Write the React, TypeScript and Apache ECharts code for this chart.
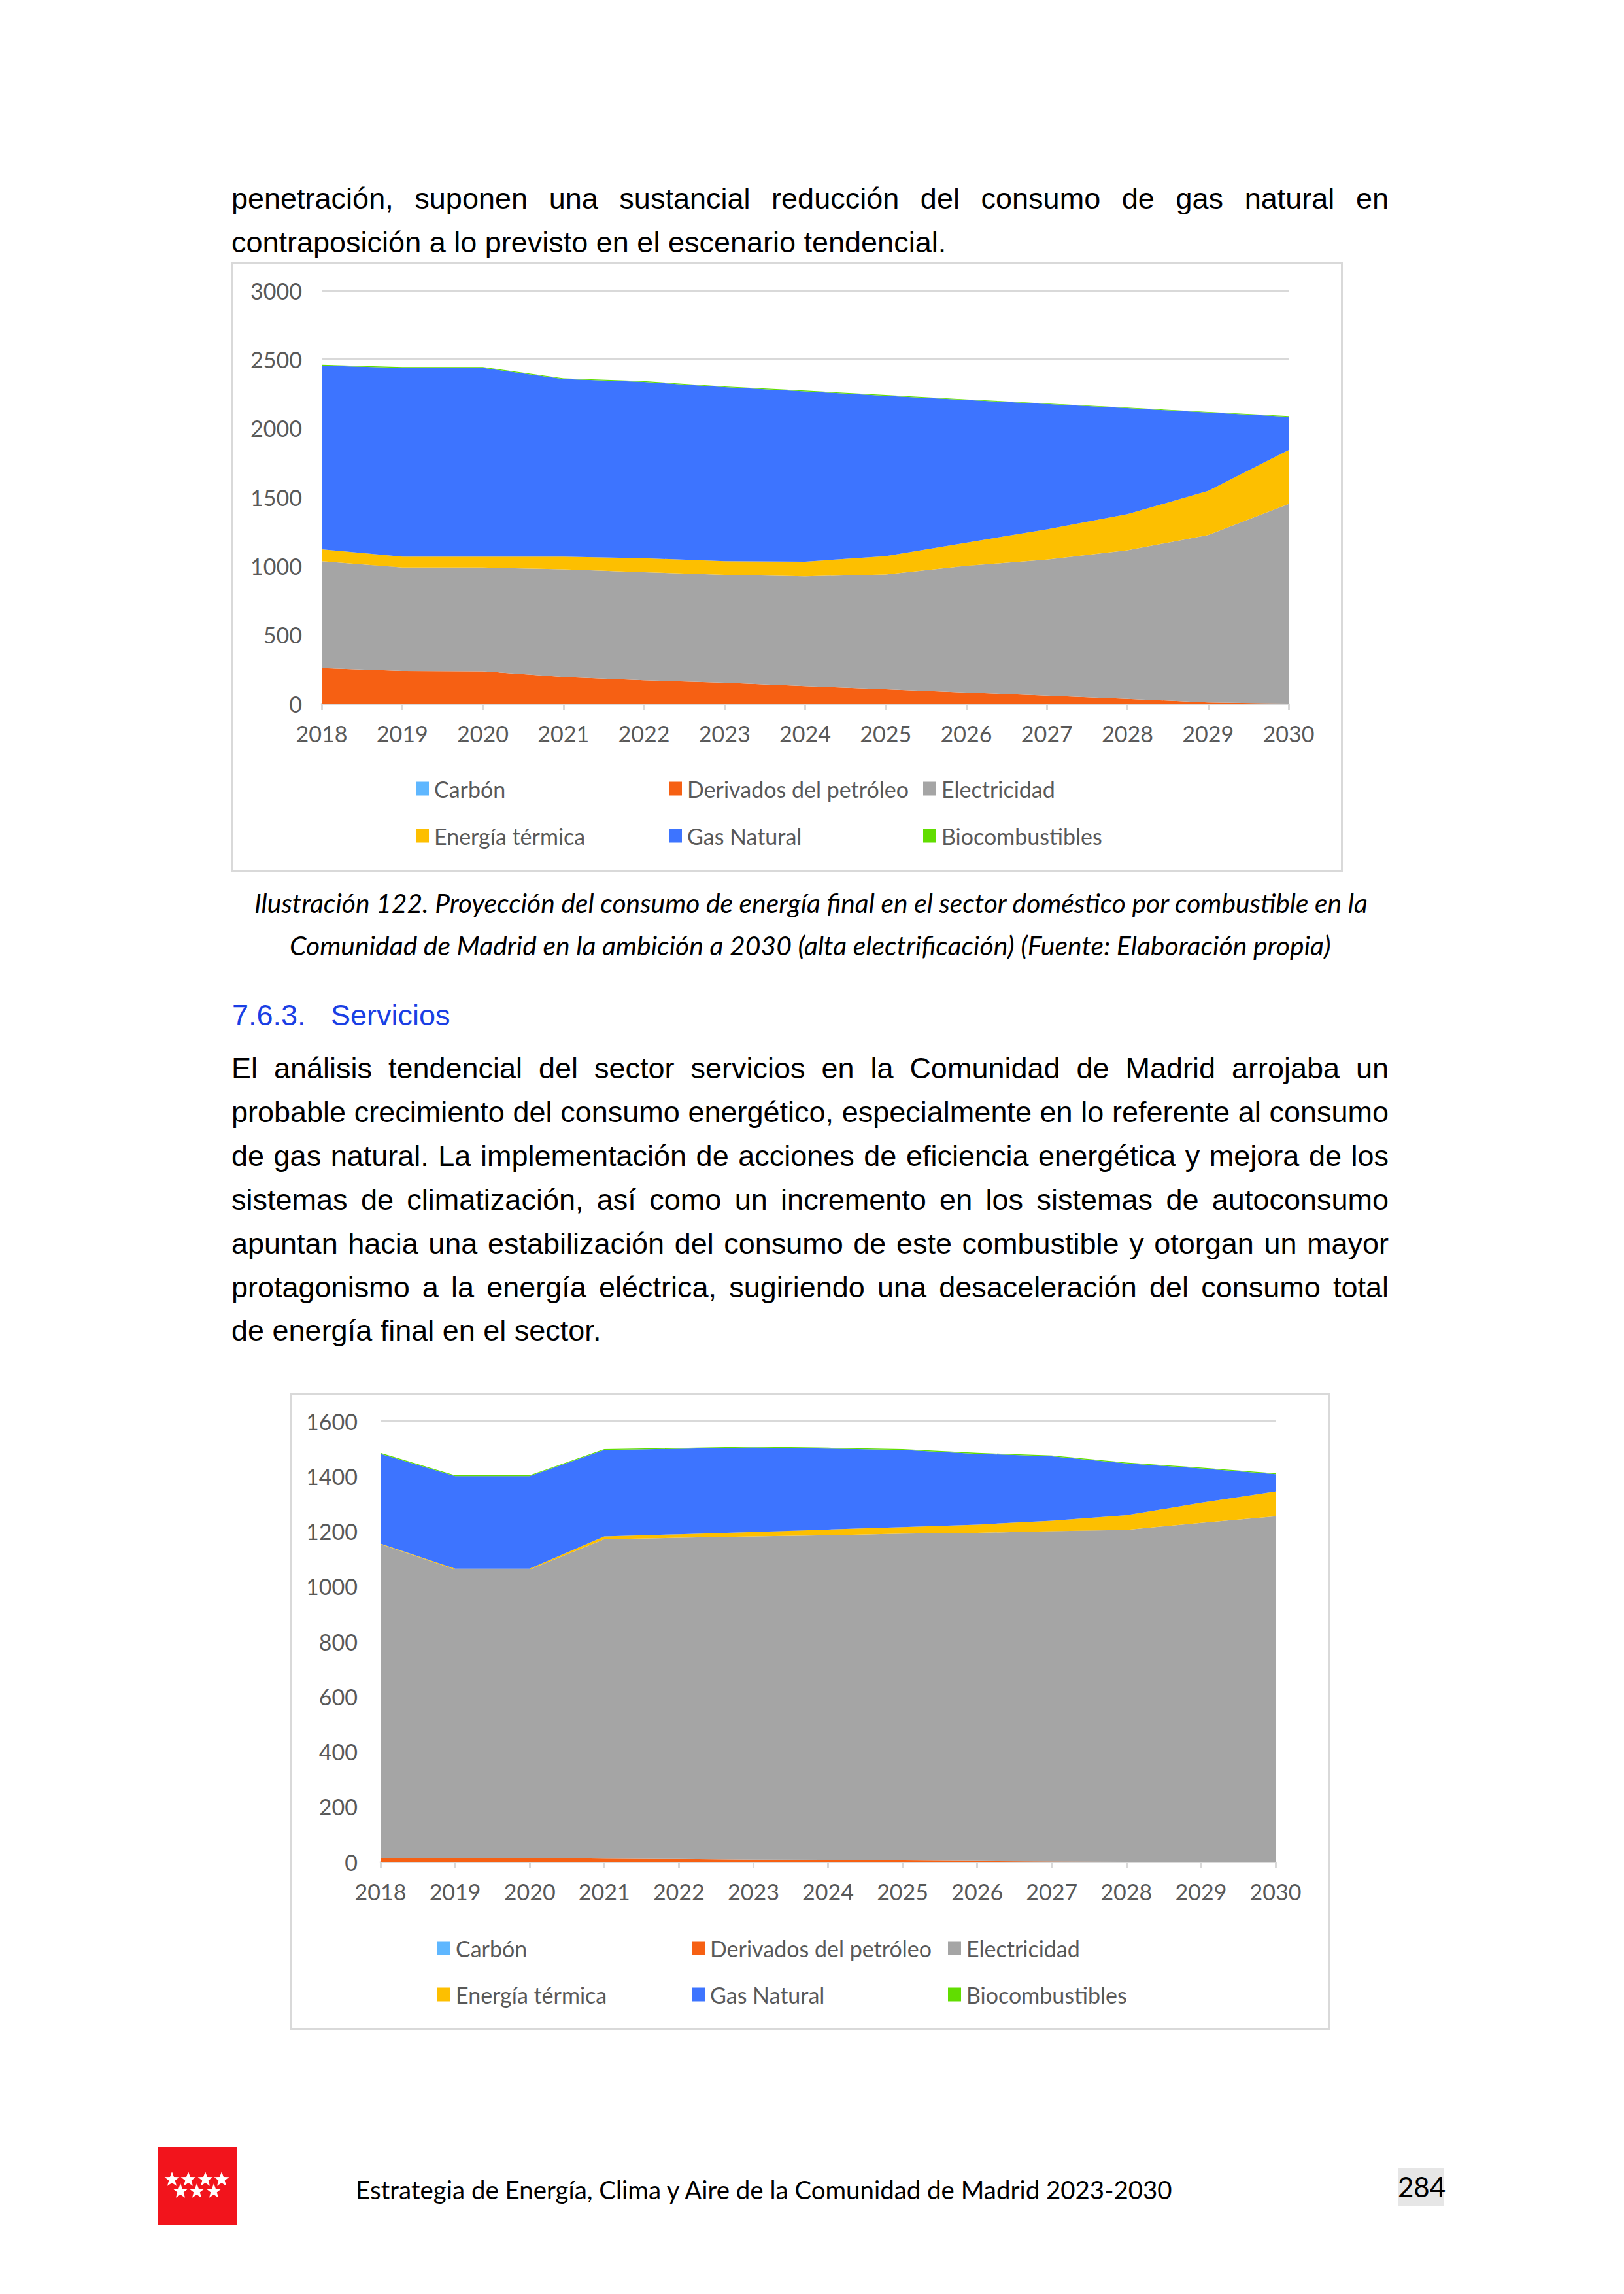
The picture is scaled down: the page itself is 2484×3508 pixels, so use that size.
import React, { useEffect, useLayoutEffect, useRef, useState } from "react";
import * as echarts from "echarts";

// ---------- DATA ----------
const years = ["2018", "2019", "2020", "2021", "2022", "2023", "2024", "2025", "2026", "2027", "2028", "2029", "2030"];
const seriesNames = ["Carbón", "Derivados del petróleo", "Electricidad", "Energía térmica", "Gas Natural", "Biocombustibles"];
const seriesColors = ["#5FB7FF", "#F66013", "#A5A5A5", "#FDBF00", "#3D74FF", "#61DD00"];

// Chart 1: sector doméstico (ambición 2030, alta electrificación)
const domCarbon = [0, 0, 0, 0, 0, 0, 0, 0, 0, 0, 0, 0, 0];
const domDerivados = [258, 237, 235, 194, 170, 152, 127, 104, 81, 58, 35, 8, 0];
const domElectricidad = [776, 751, 753, 781, 784, 783, 797, 834, 919, 988, 1078, 1215, 1449];
const domTermica = [86, 79, 79, 92, 101, 99, 106, 133, 168, 219, 262, 321, 392];
const domGas = [1334, 1371, 1371, 1290, 1281, 1263, 1237, 1164, 1037, 910, 770, 569, 242];
const domBio = [6, 6, 6, 5, 5, 5, 5, 5, 4, 4, 4, 4, 4];
const domYTicks = { min: 0, max: 3000, interval: 500 };

// Chart 2: sector servicios
const srvCarbon = [0, 0, 0, 0, 0, 0, 0, 0, 0, 0, 0, 0, 0];
const srvDerivados = [14, 14, 14, 11, 10, 8, 7, 5, 3, 1, 0, 0, 0];
const srvElectricidad = [1139, 1047, 1047, 1160, 1166, 1173, 1178, 1186, 1191, 1199, 1205, 1230, 1254];
const srvTermica = [2, 3, 3, 10, 13, 16, 21, 24, 30, 38, 53, 73, 90];
const srvGas = [326, 336, 336, 314, 310, 307, 294, 280, 257, 234, 188, 125, 63];
const srvBio = [3, 3, 3, 3, 3, 3, 3, 3, 3, 3, 3, 3, 3];
const srvYTicks = { min: 0, max: 1600, interval: 200 };

// ---------- TEXT ----------
const para1 = [
  "penetración, suponen una sustancial reducción del consumo de gas natural en",
  "contraposición a lo previsto en el escenario tendencial.",
];
const caption = [
  "Ilustración 122. Proyección del consumo de energía final en el sector doméstico por combustible en la",
  "Comunidad de Madrid en la ambición a 2030 (alta electrificación) (Fuente: Elaboración propia)",
];
const headingNum = "7.6.3.";
const headingText = "Servicios";
const para2 = [
  "El análisis tendencial del sector servicios en la Comunidad de Madrid arrojaba un",
  "probable crecimiento del consumo energético, especialmente en lo referente al consumo",
  "de gas natural. La implementación de acciones de eficiencia energética y mejora de los",
  "sistemas de climatización, así como un incremento en los sistemas de autoconsumo",
  "apuntan hacia una estabilización del consumo de este combustible y otorgan un mayor",
  "protagonismo a la energía eléctrica, sugiriendo una desaceleración del consumo total",
  "de energía final en el sector.",
];
const footerText = "Estrategia de Energía, Clima y Aire de la Comunidad de Madrid 2023-2030";
const pageNumber = "284";

const BODY_FONT = "'Liberation Sans', Arial, sans-serif";
const CAL_FONT = "Lato, 'Open Sans', sans-serif";

type LineProps = {
  text: string;
  x: number;
  cy: number;
  w?: number;
  fs: number;
  lh?: number;
  mode: "left" | "justify" | "fit";
  family: string;
  italic?: boolean;
  color?: string;
};

function TextLine(p: LineProps) {
  const spanRef = useRef<HTMLSpanElement>(null);
  const [adj, setAdj] = useState({ fs: p.fs, ws: 0 });
  useLayoutEffect(() => {
    const s = spanRef.current;
    if (!s || !p.w) return;
    const nat = s.getBoundingClientRect().width;
    if (nat <= 0) return;
    if (p.mode === "justify") {
      const spaces = (p.text.match(/ /g) || []).length;
      if (nat > p.w) setAdj({ fs: (p.fs * p.w) / nat, ws: 0 });
      else if (spaces) setAdj({ fs: p.fs, ws: (p.w - nat) / spaces });
    } else if (p.mode === "fit") {
      setAdj({ fs: (p.fs * p.w) / nat, ws: 0 });
    }
  }, []);
  const lh = p.lh ?? 64;
  return (
    <div
      style={{
        position: "absolute",
        left: p.x,
        top: p.cy - lh / 2,
        height: lh,
        lineHeight: lh + "px",
        whiteSpace: "pre",
        fontFamily: p.family,
        fontSize: adj.fs,
        fontStyle: p.italic ? "italic" : "normal",
        color: p.color ?? "#000",
        wordSpacing: adj.ws,
      }}
    >
      <span ref={spanRef}>{p.text}</span>
    </div>
  );
}

type ChartCfg = {
  data: number[][];
  yTicks: { min: number; max: number; interval: number };
  grid: { left: number; right: number; top: number; bottom: number };
  yLabelMargin: number;
  legendCols: number[];
  legendRows: number[];
};

function AreaChart({ cfg }: { cfg: ChartCfg }) {
  const ref = useRef<HTMLDivElement>(null);
  useEffect(() => {
    const chart = echarts.init(ref.current!, null, { renderer: "svg" });
    const textStyle = { fontFamily: CAL_FONT, fontSize: 34, color: "#595959" };
    // legend layout: 3 columns x 2 rows
    const legendOrder = [
      [0, 0, 0], [1, 1, 0], [2, 2, 0],
      [3, 0, 1], [4, 1, 1], [5, 2, 1],
    ];
    const legends = legendOrder.map(([si, col, row]) => ({
      show: true,
      orient: "horizontal",
      left: cfg.legendCols[col],
      top: cfg.legendRows[row] - 20,
      padding: 0,
      itemWidth: 20,
      itemHeight: 21,
      icon: "rect",
      data: [seriesNames[si]],
      textStyle: { ...textStyle, lineHeight: 40, padding: [0, 0, 0, 3] },
      selectedMode: false,
    }));
    chart.setOption({
      animation: false,
      color: seriesColors,
      grid: cfg.grid,
      legend: legends,
      xAxis: {
        type: "category",
        data: years,
        boundaryGap: false,
        axisLine: { show: true, lineStyle: { color: "#D9D9D9", width: 3 } },
        axisTick: { show: true, alignWithLabel: true, length: 10, lineStyle: { color: "#D9D9D9", width: 3 } },
        axisLabel: { ...textStyle, margin: 28 },
        splitLine: { show: false },
      },
      yAxis: {
        type: "value",
        min: cfg.yTicks.min,
        max: cfg.yTicks.max,
        interval: cfg.yTicks.interval,
        axisLine: { show: false },
        axisTick: { show: false },
        axisLabel: { ...textStyle, margin: cfg.yLabelMargin, formatter: (v: number) => String(v) },
        splitLine: { show: true, lineStyle: { color: "#D9D9D9", width: 3 } },
      },
      series: seriesNames.map((name, i) => ({
        name,
        type: "line",
        stack: "total",
        data: cfg.data[i],
        symbol: "none",
        showSymbol: false,
        lineStyle: { width: 0, color: seriesColors[i] },
        itemStyle: { color: seriesColors[i] },
        areaStyle: { color: seriesColors[i], opacity: 1 },
        emphasis: { disabled: true },
      })),
    });
    return () => chart.dispose();
  }, []);
  return <div ref={ref} style={{ width: "100%", height: "100%" }} />;
}

function Frame({ x, y, w, h, children }: { x: number; y: number; w: number; h: number; children: React.ReactNode }) {
  return (
    <div
      style={{
        position: "absolute",
        left: x,
        top: y,
        width: w,
        height: h,
        border: "3px solid #D9D9D9",
        boxSizing: "border-box",
        background: "#fff",
      }}
    >
      {children}
    </div>
  );
}

function starPoints(cx: number, cy: number, R: number, r: number) {
  const pts: string[] = [];
  for (let i = 0; i < 10; i++) {
    const ang = -Math.PI / 2 + (i * Math.PI) / 5;
    const rad = i % 2 === 0 ? R : r;
    pts.push(`${(cx + rad * Math.cos(ang)).toFixed(2)},${(cy + rad * Math.sin(ang)).toFixed(2)}`);
  }
  return pts.join(" ");
}

const starsTop = [21, 46, 72, 97];
const starsBottom = [34, 59, 85];

function Logo() {
  return (
    <svg style={{ position: "absolute", left: 242, top: 3283 }} width={120} height={119} viewBox="0 0 120 119">
      <rect x={0} y={0} width={120} height={119} fill="#F2141C" />
      {starsTop.map((sx) => (
        <polygon key={"t" + sx} points={starPoints(sx, 50, 12, 5)} fill="#fff" />
      ))}
      {starsBottom.map((sx) => (
        <polygon key={"b" + sx} points={starPoints(sx, 68, 12, 5)} fill="#fff" />
      ))}
    </svg>
  );
}

const chart1: ChartCfg = {
  data: [domCarbon, domDerivados, domElectricidad, domTermica, domGas, domBio],
  yTicks: domYTicks,
  grid: { left: 135, right: 80, top: 41, bottom: 255 },
  yLabelMargin: 30,
  legendCols: [279, 666, 1055],
  legendRows: [803, 875],
};

const chart2: ChartCfg = {
  data: [srvCarbon, srvDerivados, srvElectricidad, srvTermica, srvGas, srvBio],
  yTicks: srvYTicks,
  grid: { left: 136, right: 80, top: 40, bottom: 254 },
  yLabelMargin: 35,
  legendCols: [223, 612, 1004],
  legendRows: [846, 917],
};

export default function App() {
  const p2Y = [1634, 1701, 1768, 1835, 1902, 1969, 2035];
  return (
    <div style={{ position: "absolute", left: 0, top: 0, width: 2484, height: 3508, background: "#fff", overflow: "hidden" }}>
      {para1.map((t, i) => (
        <TextLine
          key={"p1" + i}
          text={t}
          x={354}
          cy={[304, 371][i]}
          w={1770}
          fs={45}
          mode={i < para1.length - 1 ? "justify" : "left"}
          family={BODY_FONT}
        />
      ))}

      <Frame x={354} y={400} w={1700} h={934}>
        <AreaChart cfg={chart1} />
      </Frame>

      <TextLine text={caption[0]} x={389} cy={1381} w={1703} fs={40} mode="fit" family={CAL_FONT} italic />
      <TextLine text={caption[1]} x={443} cy={1446} w={1593} fs={40} mode="fit" family={CAL_FONT} italic />

      <TextLine text={headingNum} x={355} cy={1553} fs={45} mode="left" family={BODY_FONT} color="#1A3FE4" />
      <TextLine text={headingText} x={506} cy={1553} fs={45} mode="left" family={BODY_FONT} color="#1A3FE4" />

      {para2.map((t, i) => (
        <TextLine
          key={"p2" + i}
          text={t}
          x={354}
          cy={p2Y[i]}
          w={1770}
          fs={45}
          mode={i < para2.length - 1 ? "justify" : "left"}
          family={BODY_FONT}
        />
      ))}

      <Frame x={443} y={2130} w={1591} h={974}>
        <AreaChart cfg={chart2} />
      </Frame>

      <Logo />
      <TextLine text={footerText} x={544} cy={3348} w={1249} fs={38} mode="fit" family={CAL_FONT} />
      <div
        style={{
          position: "absolute",
          left: 2138,
          top: 3316,
          width: 70,
          height: 57,
          background: "#E6E6E6",
          fontFamily: CAL_FONT,
          fontSize: 42,
          lineHeight: "57px",
          textAlign: "center",
          color: "#000",
        }}
      >
        {pageNumber}
      </div>
    </div>
  );
}
